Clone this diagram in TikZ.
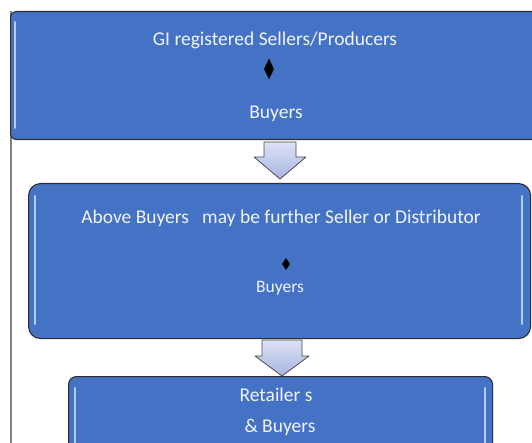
\documentclass[tikz,border=0pt]{standalone}
\usepackage{fontspec}
\setmainfont{Carlito}
\usetikzlibrary{shapes.geometric, positioning}

\definecolor{boxblue}{HTML}{4472C4}
\definecolor{boxedge}{HTML}{2E2E2E}
\definecolor{glint}{HTML}{B4CCF6}
\definecolor{labeltext}{HTML}{F2F4F8}
\definecolor{arrowtop}{HTML}{DCE2F5}
\definecolor{arrowbot}{HTML}{A7B4E0}

\begin{document}
\begin{tikzpicture}[x=1pt, y=-1pt,
    box/.style={draw=boxedge, line width=1.1pt, fill=boxblue},
    lbl/.style={text=labeltext, inner sep=0pt, font=\fontsize{19.5}{23}\selectfont},
    small/.style={lbl, font=\fontsize{17.5}{21}\selectfont},
    gem/.style={diamond, fill=black, inner sep=0pt},
    shine/.style={glint, line width=2pt, line cap=round},
    blockarrow/.style={draw=black!70, line width=0.8pt, line join=round,
        top color=arrowtop, bottom color=arrowbot}]

  \useasboundingbox (0,0) rectangle (532,443);
  \clip (0,0) rectangle (532,443);

  % page edge
  \draw[gray, line width=1.2pt] (11,11) -- (11,443);

  % first box
  \node[box, rounded corners=6pt, anchor=north west,
        minimum width=540pt, minimum height=128pt] (sellers) at (10,11) {};
  \draw[shine] (15,22) -- (15,128);
  \node[lbl] (gitext) at (275,40) {GI registered Sellers/Producers};
  \node[gem, minimum width=10pt, minimum height=21pt] (gem1) at (269,69) {};
  \node[lbl] (buyers1) at (276,114) {Buyers};

  % arrow between box 1 and 2
  \def\cx{280}
  \draw[blockarrow] (\cx-16,142) -- (\cx+16,142) -- (\cx+16,157) -- (\cx+26,157)
      -- (\cx,179) -- (\cx-26,157) -- (\cx-16,157) -- cycle;

  % second box
  \node[box, rounded corners=12pt, anchor=north west,
        minimum width=502pt, minimum height=155pt] (further) at (28,183) {};
  \draw[shine] (35,196) -- (35,324);
  \draw[shine] (522,196) -- (522,324);
  \node[lbl] (abovetext) at (281,218) {Above Buyers\ \ \ may be further Seller or Distributor};
  \node[gem, minimum width=8pt, minimum height=12pt] (gem2) at (286,264) {};
  \node[small] (buyers2) at (280,288) {Buyers};

  % arrow between box 2 and 3
  \def\cx{282}
  \draw[blockarrow] (\cx-20,340) -- (\cx+20,340) -- (\cx+20,356) -- (\cx+27,356)
      -- (\cx,376) -- (\cx-27,356) -- (\cx-20,356) -- cycle;

  % third box
  \node[box, rounded corners=8pt, anchor=north west,
        minimum width=424pt, minimum height=90pt] (retail) at (68,376) {};
  \draw[shine] (75,388) -- (75,445);
  \draw[shine] (485,388) -- (485,445);
  \node[lbl] (retailtext) at (276,395) {Retailer s};
  \node[lbl] (buyers3) at (280,427) {\& Buyers};

\end{tikzpicture}
\end{document}
